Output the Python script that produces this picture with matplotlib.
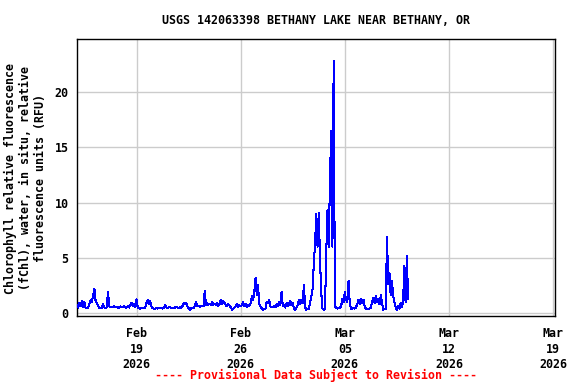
import matplotlib
matplotlib.use("Agg")
import matplotlib.pyplot as plt
import matplotlib.dates as mdates
import pandas as pd
import numpy as np

title = "USGS 142063398 BETHANY LAKE NEAR BETHANY, OR"
ylabel = "Chlorophyll relative fluorescence\n(fChl), water, in situ, relative\nfluorescence units (RFU)"
footer = "---- Provisional Data Subject to Revision ----"

start_time = "2026-02-15 00:00"
step = "2h"

# 2-hourly chlorophyll values (RFU), one row per day starting Feb 15 2026
day_values = [
    [0.7, 0.5, 0.9, 0.6, 1.1, 0.5, 1.0, 0.45, 0.45, 0.5, 0.8, 1.2],   # Feb 15
    [1.0, 1.6, 2.2, 1.1, 0.9, 0.7, 0.45, 0.5, 0.45, 0.8, 0.5, 0.45],  # Feb 16
    [0.5, 1.9, 0.6, 0.5, 0.55, 0.5, 0.6, 0.5, 0.55, 0.45, 0.5, 0.6],  # Feb 17
    [0.5, 0.55, 0.6, 0.5, 0.5, 0.6, 0.5, 0.7, 0.9, 0.6, 0.8, 0.5],    # Feb 18
    [1.25, 0.5, 0.45, 0.4, 0.45, 0.45, 0.5, 0.45, 0.9, 1.2, 0.8, 1.1],# Feb 19
    [0.6, 0.45, 0.4, 0.4, 0.45, 0.4, 0.45, 0.5, 0.45, 0.4, 0.5, 0.7], # Feb 20
    [0.5, 0.45, 0.5, 0.55, 0.45, 0.5, 0.45, 0.5, 0.55, 0.5, 0.45, 0.5],  # Feb 21
    [0.5, 0.6, 0.9, 0.8, 0.95, 0.6, 0.45, 0.3, 0.45, 0.5, 0.45, 0.6],    # Feb 22
    [1.0, 0.6, 0.65, 0.55, 0.6, 0.65, 0.6, 2.0, 0.7, 0.9, 0.75, 0.85],   # Feb 23
    [0.7, 1.0, 0.75, 0.85, 0.7, 0.9, 0.65, 0.8, 1.2, 0.8, 1.1, 0.9],     # Feb 24
    [0.7, 0.6, 0.8, 0.7, 0.5, 0.3, 0.35, 0.5, 0.6, 0.8, 0.55, 0.7],      # Feb 25
    [0.6, 0.7, 1.0, 0.6, 0.8, 0.55, 0.7, 0.65, 0.9, 1.5, 1.2, 1.9],      # Feb 26
    [3.2, 1.6, 2.5, 0.8, 0.6, 0.4, 0.3, 0.35, 0.4, 1.0, 0.9, 1.2],       # Feb 27
    [0.6, 0.5, 0.55, 0.6, 0.5, 0.8, 0.65, 1.0, 0.7, 1.9, 0.6, 0.7],      # Feb 28
    [0.5, 0.9, 0.6, 0.8, 1.1, 0.7, 0.9, 0.4, 0.3, 0.5, 0.7, 1.2],        # Mar 1
    [0.8, 1.2, 0.9, 2.5, 0.5, 0.3, 0.35, 0.4, 1.0, 1.5, 2.2, 4.5],       # Mar 2
    [6.3, 9.0, 6.0, 9.1, 4.7, 1.8, 0.4, 0.3, 0.35, 5.4, 9.3, 6.0],       # Mar 3
    [12.0, 16.5, 6.0, 22.8, 0.6, 0.5, 0.4, 0.45, 0.5, 0.6, 1.3, 1.0],    # Mar 4
    [1.9, 1.2, 1.0, 2.9, 0.8, 0.4, 0.4, 0.45, 0.4, 0.5, 0.8, 1.2],       # Mar 5
    [0.8, 1.3, 0.9, 1.2, 0.6, 0.4, 0.4, 0.35, 0.4, 0.5, 1.0, 1.4],       # Mar 6
    [0.9, 1.55, 1.0, 1.3, 0.8, 1.6, 0.9, 0.3, 0.35, 0.4, 6.9, 2.6],      # Mar 7
    [3.6, 1.6, 2.9, 1.5, 1.0, 0.5, 0.3, 0.6, 0.4, 0.9, 0.5, 1.0],        # Mar 8
    [4.3, 1.0, 5.15, 1.3],                                               # Mar 9
]

yticks = [0, 5, 10, 15, 20]
xtick_dates = ["2026-02-19", "2026-02-26", "2026-03-05", "2026-03-12", "2026-03-19"]
xlim = ("2026-02-15 00:00", "2026-03-19 03:00")
ylim = (-0.27, 24.8)

values = [v for row in day_values for v in row]
times = pd.date_range(start_time, periods=len(values), freq=step)

font = "DejaVu Sans Mono"
fs = 8.4

fig = plt.figure(figsize=(5.76, 3.84), dpi=100)
ax = fig.add_axes([77/576, 1 - 316/384, (555-77)/576, (316-39)/384])

ax.plot(times, values, color="#0000ff", linewidth=0.75, zorder=3,
        antialiased=False)

ax.set_xlim(pd.Timestamp(xlim[0]), pd.Timestamp(xlim[1]))
ax.set_ylim(*ylim)
ax.set_yticks(yticks)
ax.set_yticklabels([str(t) for t in yticks], fontfamily=font, fontweight="bold", fontsize=fs)
xt = [pd.Timestamp(d) for d in xtick_dates]
ax.set_xticks(xt)
ax.set_xticklabels([t.strftime("%b\n%d\n%Y") for t in xt], fontfamily=font,
                   fontweight="bold", fontsize=fs, linespacing=1.25)
ax.tick_params(axis="both", length=0)
ax.tick_params(axis="y", pad=6)
ax.tick_params(axis="x", pad=8)
ax.grid(True, color="#cccccc", linewidth=1.0, zorder=0)
ax.set_axisbelow(True)
for s in ax.spines.values():
    s.set_linewidth(1.0)
    s.set_color("black")

fig.text(316/576, 1 - 20/384, title, ha="center", va="center",
         fontfamily=font, fontweight="bold", fontsize=fs)
fig.text(25/576, 1 - 178/384, ylabel, ha="center", va="center", rotation=90,
         fontfamily=font, fontweight="bold", fontsize=fs, linespacing=1.2)
fig.text(316/576, 1 - 375/384, footer, ha="center", va="center", color="red",
         fontfamily=font, fontweight="bold", fontsize=fs)

fig.savefig("out.png", dpi=100)
